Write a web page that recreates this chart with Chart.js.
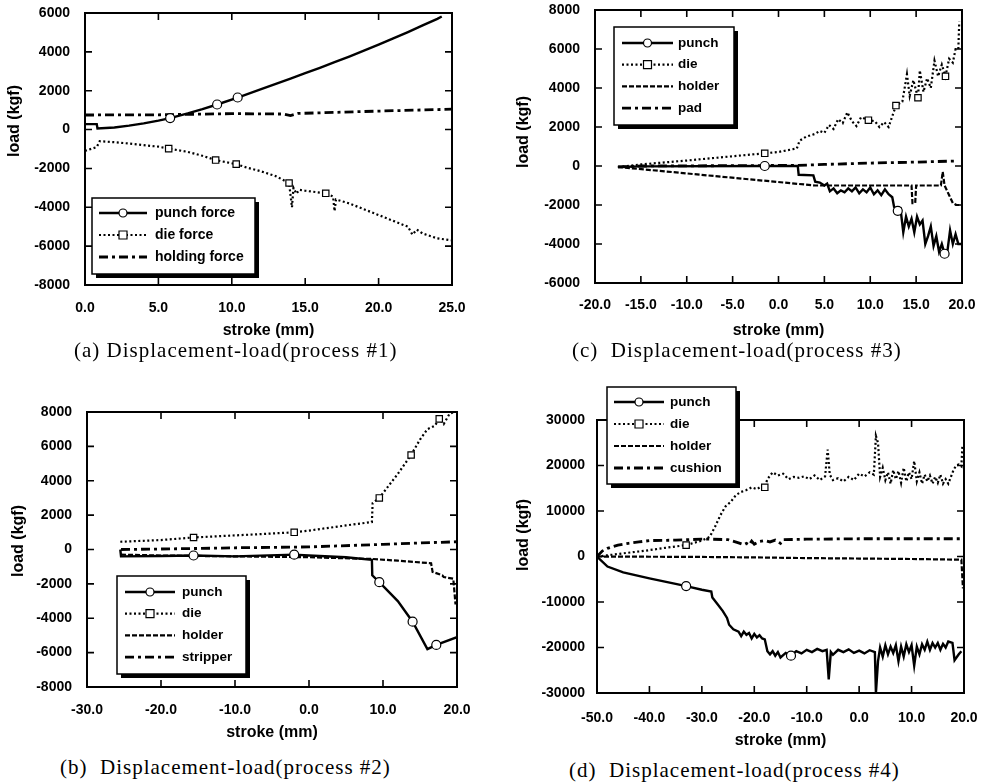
<!DOCTYPE html>
<html>
<head>
<meta charset="utf-8">
<script src="https://cdn.jsdelivr.net/npm/chart.js@4.4.1/dist/chart.umd.min.js"></script>
<style>
  body { margin: 0; background: #fff; width: 982px; height: 782px; position: relative; overflow: hidden; }
  canvas { position: absolute; }
  .cap { position: absolute; font-family: 'Liberation Serif', 'Times New Roman', serif; font-size: 21px;
         letter-spacing: 1px; white-space: pre; color: #000; line-height: 20px; }
</style>
</head>
<body>
<canvas id="pa" style="left:0;top:0" width="491" height="340"></canvas>
<canvas id="pc" style="left:491px;top:0" width="491" height="340"></canvas>
<canvas id="pb" style="left:0;top:380px" width="491" height="362"></canvas>
<canvas id="pd" style="left:491px;top:380px" width="491" height="370"></canvas>
<div class="cap" style="left:74px;top:340px">(a) Displacement-load(process #1)</div>
<div class="cap" style="left:572px;top:340px">(c)  Displacement-load(process #3)</div>
<div class="cap" style="left:60px;top:757px">(b)  Displacement-load(process #2)</div>
<div class="cap" style="left:569px;top:760px">(d)  Displacement-load(process #4)</div>
<script>
// (a) process #1
const aXTicks = [0, 5, 10, 15, 20, 25];
const aYTicks = [-8000, -6000, -4000, -2000, 0, 2000, 4000, 6000];
const aPunchX = [0, 0.8, 0.85, 2, 3, 4, 5, 5.8, 7, 8, 9, 10.4, 12, 13, 14, 15, 16, 17, 18, 19, 20, 21, 22, 23, 24, 24.3];
const aPunchY = [280, 280, 60, 110, 200, 320, 460, 590, 830, 1050, 1290, 1650, 2080, 2350, 2620, 2900, 3180, 3470, 3760, 4060, 4370, 4690, 5020, 5360, 5700, 5820];
const aPunchMarks = [5.8, 9, 10.4];
const aDieX = [0, 0.8, 1, 2, 3, 4, 5, 5.7, 7, 8, 8.9, 10.3, 11, 12, 13, 13.9, 14.1, 14.2, 14.4, 14.6, 15, 16.4, 16.9, 17, 17.1, 18, 19, 20, 21, 22, 22.3, 22.6, 23, 24, 25];
const aDieY = [-1100, -900, -600, -650, -720, -800, -880, -980, -1150, -1350, -1570, -1780, -1950, -2150, -2400, -2750, -4000, -3000, -3300, -3100, -3150, -3280, -3450, -4200, -3600, -3800, -4100, -4400, -4700, -5000, -5400, -5150, -5350, -5600, -5700];
const aDieMarks = [5.7, 8.9, 10.3, 13.9, 16.4];
const aHoldX = [0, 5, 10, 13.5, 14, 14.5, 20, 25];
const aHoldY = [750, 760, 820, 800, 720, 830, 950, 1050];

// (c) process #3
const cXTicks = [-20, -15, -10, -5, 0, 5, 10, 15, 20];
const cYTicks = [-6000, -4000, -2000, 0, 2000, 4000, 6000, 8000];
const cPunchX = [-17.5, -15, -1.5, 2.1, 2.2, 3.8, 4.0, 4.5, 5, 5.3, 5.6, 6, 6.4, 6.8, 7.2, 7.6, 8, 8.4, 8.8, 9.2, 9.6, 10, 10.4, 10.8, 11.2, 11.6, 12, 12.4, 12.6, 13, 13.3, 13.6, 13.9, 14.2, 14.5, 14.8, 15.1, 15.4, 15.7, 16, 16.3, 16.6, 16.9, 17.2, 17.5, 17.8, 18.1, 18.4, 18.7, 19, 19.3, 19.6, 20];
const cPunchY = [-50, -20, 0, 0, -450, -480, -800, -850, -1000, -900, -1300, -1150, -1400, -1250, -1350, -1150, -1300, -1100, -1400, -1200, -1350, -1100, -1450, -1250, -1500, -1200, -1450, -1600, -2100, -2300, -2200, -3400, -2600, -3100, -2700, -3400, -2600, -3000, -2800, -4000, -3600, -3100, -4100, -3600, -4400, -4000, -4500, -4400, -3300, -4000, -3500, -4000, -4000];
const cPunchMarks = [-1.5, 13, 18.1];
const cDieX = [-17.5, -15, -10, -5, -1.5, 0, 2, 2.3, 3, 4, 4.5, 5, 5.5, 6, 6.5, 7, 7.5, 8, 8.5, 9, 9.8, 10.5, 11, 11.5, 12, 12.8, 13.5, 14, 14.3, 14.7, 15.2, 15.4, 15.8, 16.2, 16.6, 17, 17.4, 17.8, 18.2, 18.6, 19, 19.3, 19.6, 19.7];
const cDieY = [-50, 80, 280, 500, 650, 720, 900, 1300, 1500, 1650, 1800, 1700, 2100, 1900, 2400, 2200, 2750, 2300, 2050, 2500, 2350, 2300, 2000, 2250, 2000, 3100, 3300, 4700, 3600, 4400, 3500, 4900, 3800, 4500, 4000, 5400, 4600, 5200, 4600, 5500, 5300, 6000, 6000, 7400];
const cDieMarks = [-1.5, 9.8, 12.8, 15.2, 18.2];
const cHolderX = [-17.5, 4, 14.5, 14.6, 14.9, 15, 17.7, 17.9, 18.1, 18.6, 19, 19.4, 20];
const cHolderY = [-50, -1000, -1000, -1900, -1900, -1000, -1000, -300, -1000, -1500, -1900, -2000, -2000];
const cPadX = [-17.5, -15, 2, 5, 10, 15, 19.5];
const cPadY = [-50, 0, 30, 80, 150, 200, 260];

// (b) process #2
const bXTicks = [-30, -20, -10, 0, 10, 20];
const bYTicks = [-8000, -6000, -4000, -2000, 0, 2000, 4000, 6000, 8000];
const bPunchX = [-25.5, -25.4, -20, -15.6, -10, -2, 0, 5, 8.5, 8.55, 9.5, 12, 14, 16, 17.2, 20];
const bPunchY = [0, -400, -380, -350, -400, -300, -350, -450, -600, -1500, -1900, -3000, -4200, -5800, -5550, -5100];
const bPunchMarks = [-15.6, -2, 9.5, 14, 17.2];
const bDieX = [-25.5, -20, -15.6, -10, -5, -2, 0, 5, 8.5, 8.6, 9.5, 12, 13.8, 15, 16, 17, 17.6, 18.2, 19, 19.6];
const bDieY = [450, 550, 700, 820, 930, 1000, 1100, 1400, 1600, 2700, 3000, 4400, 5500, 6400, 7000, 7200, 7600, 7300, 7900, 8000];
const bDieMarks = [-15.6, -2, 9.5, 13.8, 17.6];
const bHolderX = [-25.4, -20, -10, 0, 8.5, 12, 16.5, 16.7, 18, 18.2, 19.5, 19.8];
const bHolderY = [-300, -350, -400, -450, -550, -650, -800, -1300, -1500, -1600, -1700, -3200];
const bStripX = [-25.4, -20, -15, -10, 0, 10, 15, 20];
const bStripY = [0, 30, 60, 100, 150, 300, 380, 450];

// (d) process #4
const dXTicks = [-50, -40, -30, -20, -10, 0, 10, 20];
const dYTicks = [-30000, -20000, -10000, 0, 10000, 20000, 30000];
const dPunchX = [-50, -48, -45, -40, -35, -33, -30, -28.2, -28, -27, -26, -25.2, -24.8, -24, -23, -22.5, -22, -21.5, -21, -20.5, -20, -19.5, -19, -18.5, -18, -17.5, -17, -16.5, -16, -15.5, -15, -14, -13, -12, -11, -10, -9, -8, -7, -6.2, -5.8, -5.4, -5, -4, -3, -2, -1, 0, 1, 2, 3, 3.2, 3.6, 4, 4.5, 5, 5.5, 6, 6.5, 7, 7.5, 8, 8.5, 9, 9.5, 10, 10.5, 11, 11.5, 12, 12.5, 13, 13.5, 14, 14.5, 15, 15.5, 16, 16.5, 17, 17.8, 18.2, 19, 19.5];
const dPunchY = [0, -2200, -3500, -4800, -6000, -6500, -7300, -7700, -9000, -10500, -12000, -13500, -15000, -16000, -16500, -17500, -16500, -17200, -16800, -18000, -17000, -17800, -17300, -18000, -18200, -20800, -21500, -20800, -21800, -21000, -22200, -21200, -21800, -20800, -21300, -20500, -21000, -20300, -20800, -20500, -27000, -21000, -21600, -20500, -21000, -20400, -21200, -20700, -21300, -20600, -21000, -30000, -23000, -20000, -22000, -19500, -21500, -19800, -21200, -19500, -23000, -19800, -22000, -19300, -21000, -19500, -24000, -19800, -21500, -19300, -20500, -18700, -20500, -19000, -20000, -19000, -20500, -19200, -20000, -18700, -19000, -22800, -21500, -20800];
const dPunchMarks = [-33, -13];
const dDieX = [-50, -47, -45, -42, -40, -37, -35, -33, -30, -28.5, -27.5, -26.5, -25.5, -24.5, -23.5, -22.5, -21.5, -20.5, -19.5, -18.5, -18, -17.5, -16.5, -15.5, -14.5, -13.5, -12.5, -11.5, -10.5, -9.5, -8.5, -7.5, -6.5, -6, -5.6, -5, -4, -3, -2, -1, 0, 1, 2, 2.8, 3.2, 3.6, 4, 4.5, 5, 5.5, 6, 6.5, 7, 7.5, 8, 8.5, 9, 9.5, 10, 10.5, 11, 11.5, 12, 12.5, 13, 13.5, 14, 14.5, 15, 15.5, 16, 16.5, 17, 17.5, 18, 18.5, 19, 19.5, 19.7];
const dDieY = [0, 400, 700, 1100, 1400, 1900, 2200, 2500, 3500, 4300, 6500, 9000, 11000, 12000, 13500, 14200, 14600, 15200, 14800, 15500, 15200, 17000, 18500, 17800, 18200, 17000, 17500, 17300, 17600, 17000, 17800, 16800, 17600, 23500, 18000, 16800, 17200, 16500, 17500, 16800, 18200, 17600, 18500, 18000, 26500, 25000, 17500, 19500, 16800, 18500, 16000, 19000, 17000, 18800, 16200, 19500, 16500, 18500, 17000, 21000, 16500, 18500, 16000, 18000, 16500, 17800, 16000, 17500, 16200, 18000, 16000, 17000, 16000, 17500, 19000, 20000, 20200, 19800, 24500];
const dDieMarks = [-33, -18];
const dHolderX = [-50, -40, -30, -20, -10, 0, 10, 19.5, 19.8];
const dHolderY = [0, -50, -100, -200, -350, -450, -550, -700, -7000];
const dCushX = [-50, -49, -48, -46, -44, -42, -40, -35, -30, -28, -25, -23, -22, -21.5, -21, -20.5, -20, -19, -18, -17, -16, -15, -14.5, -10, 0, 10, 20];
const dCushY = [0, 1200, 1800, 2500, 2900, 3200, 3500, 3600, 3800, 3800, 3700, 3000, 2600, 2900, 2500, 3400, 2700, 3300, 3500, 3200, 3600, 2900, 3700, 3800, 3900, 3900, 3900];

Chart.defaults.font.family = "'Liberation Sans', Arial, sans-serif";
Chart.defaults.color = '#000';

const LINE = {
    solid:   { borderDash: [], borderWidth: 2.4 },
    dot:     { borderDash: [2, 2.5], borderWidth: 2.2 },
    dash:    { borderDash: [5, 2], borderWidth: 2.2 },
    dashdot: { borderDash: [9, 4, 3, 4], borderWidth: 2.8 }
};

function series(label, xs, ys, style, marker, marks) {
    return Object.assign({
        label: label,
        data: xs.map((x, i) => ({ x: x, y: ys[i] })),
        borderColor: '#000',
        backgroundColor: '#fff',
        tension: 0,
        fill: false,
        pointStyle: marker || 'circle',
        marker: marker || null,
        pointRadius: ctx => (marks && ctx.raw && marks.includes(ctx.raw.x)) ? 4.5 : 0,
        pointBackgroundColor: '#fff',
        pointBorderColor: '#000',
        pointBorderWidth: 1.2,
        pointHoverRadius: 0
    }, LINE[style]);
}

// box with inward ticks on all four sides, plus the rotated y title
const frame = {
    id: 'frame',
    afterDatasetsDraw(chart, args, o) {
        const { ctx, chartArea: a, scales: { x, y } } = chart;
        ctx.save();
        ctx.strokeStyle = '#000';
        ctx.lineWidth = 2;
        ctx.strokeRect(a.left, a.top, a.right - a.left, a.bottom - a.top);
        ctx.lineWidth = 1.6;
        ctx.beginPath();
        x.ticks.forEach(t => {
            const p = x.getPixelForValue(t.value);
            ctx.moveTo(p, a.bottom); ctx.lineTo(p, a.bottom - 7);
            ctx.moveTo(p, a.top); ctx.lineTo(p, a.top + 7);
        });
        y.ticks.forEach(t => {
            const p = y.getPixelForValue(t.value);
            ctx.moveTo(a.left, p); ctx.lineTo(a.left + 7, p);
            ctx.moveTo(a.right, p); ctx.lineTo(a.right - 7, p);
        });
        ctx.stroke();
        ctx.translate(o.titleX, o.titleY);
        ctx.rotate(-Math.PI / 2);
        ctx.font = "bold 16px 'Liberation Sans', Arial, sans-serif";
        ctx.fillStyle = '#000';
        ctx.textAlign = 'center';
        ctx.textBaseline = 'middle';
        ctx.fillText('load (kgf)', 0, 0);
        ctx.restore();
    }
};

// boxed legend with a heavy drop shadow, read from the datasets
const boxLegend = {
    id: 'boxLegend',
    afterDraw(chart, args, o) {
        const ctx = chart.ctx;
        ctx.save();
        ctx.fillStyle = '#000';
        ctx.fillRect(o.left + 4, o.top + 4, o.width, o.height);
        ctx.fillStyle = '#fff';
        ctx.fillRect(o.left, o.top, o.width, o.height);
        ctx.strokeStyle = '#000';
        ctx.lineWidth = 1.5;
        ctx.strokeRect(o.left, o.top, o.width, o.height);
        ctx.font = "bold " + o.size + "px 'Liberation Sans', Arial, sans-serif";
        ctx.textBaseline = 'middle';
        chart.data.datasets.forEach((ds, i) => {
            const yy = o.top + o.first + i * o.step;
            const x0 = o.left + o.lineFrom, x1 = o.left + o.lineTo;
            ctx.setLineDash(ds.borderDash);
            ctx.lineWidth = ds.borderWidth;
            ctx.beginPath();
            ctx.moveTo(x0, yy); ctx.lineTo(x1, yy);
            ctx.stroke();
            ctx.setLineDash([]);
            if (ds.marker) {
                const mx = (x0 + x1) / 2;
                ctx.lineWidth = 1.2;
                ctx.fillStyle = '#fff';
                ctx.beginPath();
                if (ds.marker === 'circle') ctx.arc(mx, yy, 4, 0, Math.PI * 2);
                else ctx.rect(mx - 4, yy - 4, 8, 8);
                ctx.fill();
                ctx.stroke();
            }
            ctx.fillStyle = '#000';
            ctx.fillText(ds.label, o.left + o.textX, yy);
        });
        ctx.restore();
    }
};

function panel(id, datasets, xTicks, yTicks, g, legend) {
    const tickFont = { size: 14, weight: 'bold' };
    return new Chart(document.getElementById(id), {
        type: 'line',
        data: { datasets: datasets },
        plugins: [frame, boxLegend],
        options: {
            responsive: false,
            animation: false,
            events: [],
            layout: { padding: { left: 0, right: g.padR, top: g.padT, bottom: 0 } },
            plugins: {
                legend: { display: false },
                tooltip: { enabled: false },
                frame: { titleX: g.titleX, titleY: g.titleY },
                boxLegend: legend
            },
            scales: {
                x: {
                    type: 'linear',
                    min: xTicks[0], max: xTicks[xTicks.length - 1],
                    afterBuildTicks: s => { s.ticks = xTicks.map(v => ({ value: v })); },
                    afterFit: s => { s.height = g.xH; s.paddingLeft = 0; s.paddingRight = 0; },
                    grid: { display: false, drawTicks: false },
                    border: { display: false },
                    ticks: { font: tickFont, padding: g.xPad, maxRotation: 0, autoSkip: false,
                             callback: v => v.toFixed(1) },
                    title: { display: true, text: 'stroke (mm)', padding: 0,
                             font: { size: 16, weight: 'bold' } }
                },
                y: {
                    type: 'linear',
                    min: yTicks[0], max: yTicks[yTicks.length - 1],
                    afterBuildTicks: s => { s.ticks = yTicks.map(v => ({ value: v })); },
                    afterFit: s => { s.width = g.yW; s.paddingTop = 0; s.paddingBottom = 0; },
                    grid: { display: false, drawTicks: false },
                    border: { display: false },
                    ticks: { font: tickFont, padding: g.yPad, autoSkip: false,
                             callback: v => String(v) }
                }
            }
        }
    });
}

document.addEventListener('DOMContentLoaded', function() {
    panel('pa', [
        series('punch force', aPunchX, aPunchY, 'solid', 'circle', aPunchMarks),
        series('die force', aDieX, aDieY, 'dot', 'rect', aDieMarks),
        series('holding force', aHoldX, aHoldY, 'dashdot')
    ], aXTicks, aYTicks,
    { padR: 39, padT: 13, yW: 85, xH: 55, xPad: 15, yPad: 15, titleX: 15, titleY: 121 },
    { left: 92, top: 198, width: 163, height: 76, first: 15, step: 22, lineFrom: 7, lineTo: 55, textX: 63, size: 14 });

    panel('pc', [
        series('punch', cPunchX, cPunchY, 'solid', 'circle', cPunchMarks),
        series('die', cDieX, cDieY, 'dot', 'rect', cDieMarks),
        series('holder', cHolderX, cHolderY, 'dash'),
        series('pad', cPadX, cPadY, 'dashdot')
    ], cXTicks, cYTicks,
    { padR: 20, padT: 10, yW: 104, xH: 57, xPad: 14, yPad: 15, titleX: 33, titleY: 132 },
    { left: 123, top: 27, width: 120, height: 98, first: 16, step: 21.7, lineFrom: 8, lineTo: 59, textX: 64, size: 13.5 });

    panel('pb', [
        series('punch', bPunchX, bPunchY, 'solid', 'circle', bPunchMarks),
        series('die', bDieX, bDieY, 'dot', 'rect', bDieMarks),
        series('holder', bHolderX, bHolderY, 'dash'),
        series('stripper', bStripX, bStripY, 'dashdot')
    ], bXTicks, bYTicks,
    { padR: 34, padT: 32, yW: 87, xH: 55, xPad: 15, yPad: 15, titleX: 19, titleY: 161 },
    { left: 117, top: 196, width: 129, height: 98, first: 16, step: 21.7, lineFrom: 8, lineTo: 58, textX: 65, size: 13.5 });

    panel('pd', [
        series('punch', dPunchX, dPunchY, 'solid', 'circle', dPunchMarks),
        series('die', dDieX, dDieY, 'dot', 'rect', dDieMarks),
        series('holder', dHolderX, dHolderY, 'dash'),
        series('cushion', dCushX, dCushY, 'dashdot')
    ], dXTicks, dYTicks,
    { padR: 18, padT: 40, yW: 106, xH: 57, xPad: 16.5, yPad: 12, titleX: 33, titleY: 155 },
    { left: 116, top: 7, width: 129, height: 97, first: 15, step: 22, lineFrom: 7, lineTo: 57, textX: 63, size: 13.5 });
});
</script>
</body>
</html>
